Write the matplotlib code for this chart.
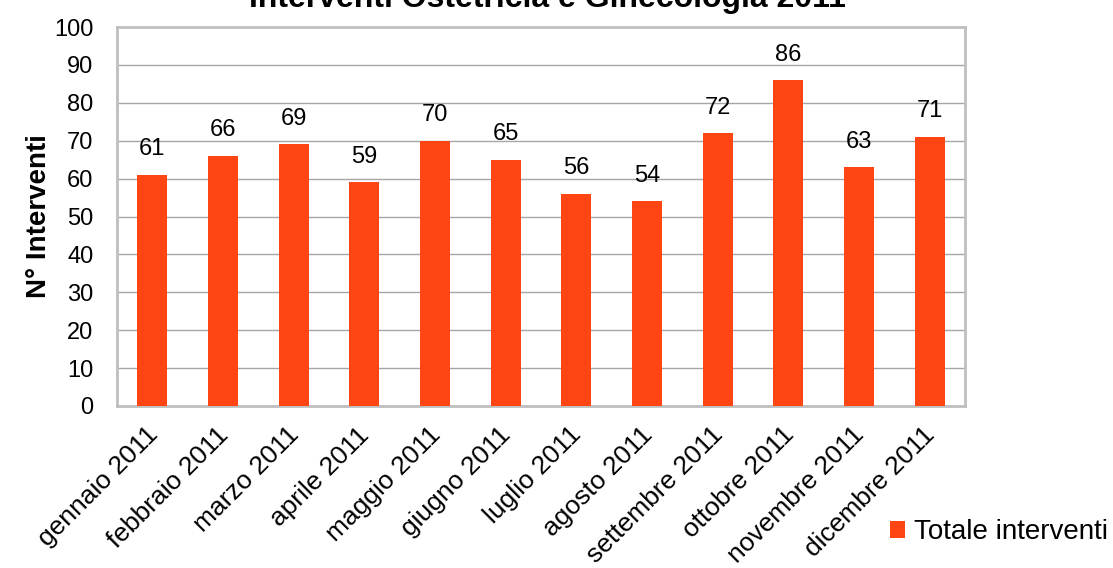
import matplotlib.pyplot as plt
import matplotlib.transforms as mtransforms

plt.rcParams['font.family'] = ['Liberation Sans', 'DejaVu Sans']

mesi = ['gennaio 2011', 'febbraio 2011', 'marzo 2011', 'aprile 2011',
        'maggio 2011', 'giugno 2011', 'luglio 2011', 'agosto 2011',
        'settembre 2011', 'ottobre 2011', 'novembre 2011', 'dicembre 2011']
interventi = [61, 66, 69, 59, 70, 65, 56, 54, 72, 86, 63, 71]

fig = plt.figure(figsize=(11.13, 5.68), dpi=100)
ax = fig.add_axes([117 / 1113, 1 - 406 / 568, 848 / 1113, 379 / 568])

x = range(len(mesi))
bars = ax.bar(x, interventi, width=0.42, color='#FF4513', zorder=3,
              label='Totale interventi')
for b, v in zip(bars, interventi):
    ax.annotate(str(v), (b.get_x() + b.get_width() / 2, v),
                xytext=(0, 14), textcoords='offset points',
                ha='center', va='baseline', fontsize=17)

ax.set_xlim(-0.5, len(mesi) - 0.5)
ax.set_ylim(0, 100)
ax.set_yticks(range(0, 101, 10))
ax.yaxis.grid(True, color='#A6A6A6', linewidth=1, zorder=0)
for s in ax.spines.values():
    s.set_color('#BFBFBF')
    s.set_linewidth(2)
ax.tick_params(axis='both', length=0, labelsize=17)
ax.tick_params(axis='y', pad=17)
ax.tick_params(axis='x', pad=12, labelsize=19)
ax.set_xticks(list(x))
ax.set_xticklabels(mesi, rotation=45, ha='right', rotation_mode='anchor')
# sposta un po' a sinistra le etichette ruotate
shift = mtransforms.ScaledTranslation(-7 / 100, 0, fig.dpi_scale_trans)
for lab in ax.get_xticklabels():
    lab.set_transform(lab.get_transform() + shift)
ax.set_ylabel('N° Interventi', fontsize=20, fontweight='bold', labelpad=1.5)

fig.text(0.492, 1 - 7 / 568, 'Interventi Ostetricia e Ginecologia 2011',
         ha='center', va='baseline', fontsize=23, fontweight='bold')

fig.legend(handles=[bars], labels=['Totale interventi'], loc='center',
           bbox_to_anchor=(999 / 1113, 1 - 532 / 568), frameon=False,
           fontsize=20, handlelength=0.55, handleheight=0.55, handletextpad=0.3)

fig.savefig('out.png', dpi=100)
